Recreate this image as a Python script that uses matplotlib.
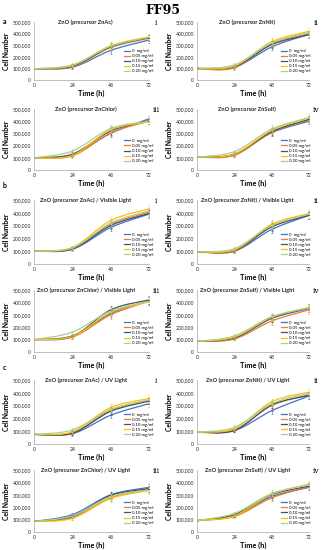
#!/usr/bin/env python3
"""FF95 cell growth curves: 12 small panels (ZnO precursors, dark / visible / UV)."""

import matplotlib

matplotlib.use("Agg")
import matplotlib.pyplot as plt
from matplotlib.lines import Line2D
from matplotlib.patches import PathPatch
from matplotlib.path import Path
from matplotlib.ticker import FuncFormatter

# ---- data ----
TIMES = [0, 24, 48, 72]
CONC_LABELS = ["0  mg/ml", "0.05 mg/ml", "0.10 mg/ml", "0.15 mg/ml", "0.20 mg/ml"]
COLORS = ["#4472C4", "#ED7D31", "#44546A", "#FFC000", "#A9D18E"]
Y_TICKS = [0, 100000, 200000, 300000, 400000, 500000]

ZNAC_DARK = [[97e3, 110e3, 255e3, 345e3], [97e3, 115e3, 280e3, 360e3], [97e3, 120e3, 285e3, 365e3],
             [97e3, 125e3, 295e3, 372e3], [97e3, 130e3, 290e3, 368e3]]
ZNNIT_DARK = [[100e3, 110e3, 285e3, 395e3], [95e3, 105e3, 310e3, 400e3], [100e3, 115e3, 305e3, 390e3],
              [95e3, 120e3, 330e3, 420e3], [100e3, 130e3, 320e3, 410e3]]
ZNCHLOR_DARK = [[100e3, 125e3, 300e3, 420e3], [100e3, 115e3, 305e3, 400e3], [100e3, 130e3, 320e3, 405e3],
                [100e3, 120e3, 330e3, 395e3], [100e3, 155e3, 340e3, 400e3]]
ZNSULF_DARK = [[105e3, 125e3, 305e3, 400e3], [105e3, 120e3, 310e3, 410e3], [105e3, 130e3, 315e3, 415e3],
               [105e3, 130e3, 325e3, 425e3], [105e3, 150e3, 335e3, 430e3]]
ZNAC_VIS = [[100e3, 115e3, 285e3, 390e3], [100e3, 120e3, 310e3, 405e3], [100e3, 118e3, 300e3, 395e3],
            [100e3, 130e3, 340e3, 430e3], [100e3, 125e3, 320e3, 415e3]]
ZNNIT_VIS = [[95e3, 100e3, 270e3, 380e3], [95e3, 100e3, 295e3, 385e3], [95e3, 105e3, 290e3, 380e3],
             [95e3, 110e3, 310e3, 395e3], [95e3, 120e3, 300e3, 390e3]]
ZNCHLOR_VIS = [[100e3, 130e3, 310e3, 415e3], [100e3, 120e3, 300e3, 410e3], [100e3, 125e3, 340e3, 420e3],
               [100e3, 125e3, 320e3, 405e3], [100e3, 160e3, 330e3, 410e3]]
ZNSULF_VIS = [[85e3, 110e3, 270e3, 350e3], [85e3, 105e3, 250e3, 340e3], [85e3, 115e3, 275e3, 355e3],
              [85e3, 120e3, 280e3, 360e3], [85e3, 130e3, 285e3, 355e3]]
ZNAC_UV = [[75e3, 80e3, 225e3, 315e3], [75e3, 85e3, 265e3, 340e3], [75e3, 85e3, 255e3, 335e3],
           [75e3, 95e3, 285e3, 355e3], [75e3, 110e3, 270e3, 345e3]]
ZNNIT_UV = [[92e3, 105e3, 260e3, 375e3], [92e3, 110e3, 300e3, 385e3], [92e3, 105e3, 305e3, 380e3],
            [92e3, 120e3, 330e3, 405e3], [92e3, 130e3, 315e3, 395e3]]
ZNCHLOR_UV = [[85e3, 140e3, 300e3, 360e3], [85e3, 115e3, 275e3, 345e3], [85e3, 125e3, 295e3, 350e3],
              [85e3, 110e3, 270e3, 335e3], [85e3, 130e3, 285e3, 340e3]]
ZNSULF_UV = [[92e3, 135e3, 285e3, 360e3], [92e3, 125e3, 275e3, 365e3], [92e3, 140e3, 300e3, 370e3],
             [92e3, 130e3, 305e3, 385e3], [92e3, 150e3, 310e3, 380e3]]

# one rough error size per time point, per panel
ERR_DARK = [0, 15e3, 30e3, 25e3]
ERR_VIS = [0, 12e3, 30e3, 30e3]
ERR_UV = [0, 15e3, 25e3, 25e3]

PANELS = [
    ("ZnO (precursor ZnAc)", "i", ZNAC_DARK, ERR_DARK),
    ("ZnO (precursor ZnNit)", "ii", ZNNIT_DARK, ERR_DARK),
    ("ZnO (precursor ZnChlor)", "iii", ZNCHLOR_DARK, ERR_DARK),
    ("ZnO (precursor ZnSulf)", "iv", ZNSULF_DARK, ERR_DARK),
    ("ZnO (precursor ZnAc) / Visible Light", "i", ZNAC_VIS, ERR_VIS),
    ("ZnO (precursor ZnNit) / Visible Light", "ii", ZNNIT_VIS, ERR_VIS),
    ("ZnO (precursor ZnChlor) / Visible Light", "iii", ZNCHLOR_VIS, ERR_VIS),
    ("ZnO (precursor ZnSulf) / Visible Light", "iv", ZNSULF_VIS, ERR_VIS),
    ("ZnO (precursor ZnAc) / UV Light", "i", ZNAC_UV, ERR_UV),
    ("ZnO (precursor ZnNit) / UV Light", "ii", ZNNIT_UV, ERR_UV),
    ("ZnO (precursor ZnChlor) / UV Light", "iii", ZNCHLOR_UV, ERR_UV),
    ("ZnO (precursor ZnSulf) / UV Light", "iv", ZNSULF_UV, ERR_UV),
]

W, H = 325, 550
COL_X = [(34, 149), (197, 309)]
LEGEND_X = [1.06, 1.035]
ROW_Y = [(22, 80), (109, 170), (200, 264), (290, 352), (380, 444), (470, 532)]
SECTION_Y = {"a": 22, "b": 185, "c": 367}

FONT = "Lato"
plt.rcParams["font.family"] = [FONT, "DejaVu Sans"]


def smooth_path(x, y):
    """Excel-style smoothed line: cubic Bezier segments through the data points."""
    n = len(x)
    verts = [(x[0], y[0])]
    codes = [Path.MOVETO]
    for i in range(n - 1):
        xp, yp = (x[i - 1], y[i - 1]) if i > 0 else (x[i], y[i])
        xn, yn = (x[i + 2], y[i + 2]) if i + 2 < n else (x[i + 1], y[i + 1])
        c1 = (x[i] + (x[i + 1] - xp) / 6, y[i] + (y[i + 1] - yp) / 6)
        c2 = (x[i + 1] - (xn - x[i]) / 6, y[i + 1] - (yn - y[i]) / 6)
        verts += [c1, c2, (x[i + 1], y[i + 1])]
        codes += [Path.CURVE4] * 3
    return Path(verts, codes)


fig = plt.figure(figsize=(W / 100, H / 100), dpi=100)
fig.text(0.5, 1 - 10 / H, "FF95", ha="center", va="center", fontsize=9,
         fontweight="bold", family="DejaVu Serif")
for lab, ypx in SECTION_Y.items():
    fig.text(3 / W, 1 - ypx / H, lab, ha="left", va="center", fontsize=5, fontweight="bold")

for k, (title, roman, series, err) in enumerate(PANELS):
    row, col = divmod(k, 2)
    x0, x1 = COL_X[col]
    y0, y1 = ROW_Y[row]
    ax = fig.add_axes([x0 / W, 1 - y1 / H, (x1 - x0) / W, (y1 - y0) / H])

    for vals, color in zip(series, COLORS):
        ax.add_patch(PathPatch(smooth_path(TIMES, vals), fill=False, edgecolor=color, lw=0.9))
        ax.errorbar(TIMES[1:], vals[1:], yerr=err[1:], fmt="none", ecolor=color,
                    elinewidth=0.4, capsize=0.9, capthick=0.4)
        ax.plot(TIMES, vals, ls="none", marker="_", ms=2, mew=0.6, color=color)

    ax.set_xlim(0, 72)
    ax.set_ylim(0, 500000)
    ax.set_xticks(TIMES)
    ax.set_yticks(Y_TICKS)
    ax.yaxis.set_major_formatter(FuncFormatter(lambda v, p: f"{int(v):,}"))
    ax.tick_params(length=0, labelsize=3.6, pad=2, colors="#262626")
    for s in ("top", "right"):
        ax.spines[s].set_visible(False)
    for s in ("left", "bottom"):
        ax.spines[s].set_color("#A6A6A6")
        ax.spines[s].set_linewidth(0.5)
    ax.set_xlabel("Time (h)", fontsize=5.3, fontweight="bold", labelpad=1.2)
    ax.set_ylabel("Cell Number", fontsize=4.9, fontweight="bold", labelpad=1.8)
    ax.text(0.45, 1.0, title, transform=ax.transAxes, ha="center", va="center",
            fontsize=4.1, fontweight="bold", color="#262626")
    fig.text((x1 + 7) / W, 1 - (y0 + 1) / H, roman, ha="center", va="center",
             fontsize=5.5, family="DejaVu Serif")

    handles = [Line2D([], [], color=c, lw=0.9, marker="_", ms=2, mew=0.6) for c in COLORS]
    ax.legend(handles, CONC_LABELS, loc="lower right", bbox_to_anchor=(LEGEND_X[col], 0.07),
              fontsize=3.1, frameon=False, handlelength=1.4, handletextpad=0.5,
              labelspacing=0.24, borderpad=0.1)

fig.savefig("out.png", dpi=100)
